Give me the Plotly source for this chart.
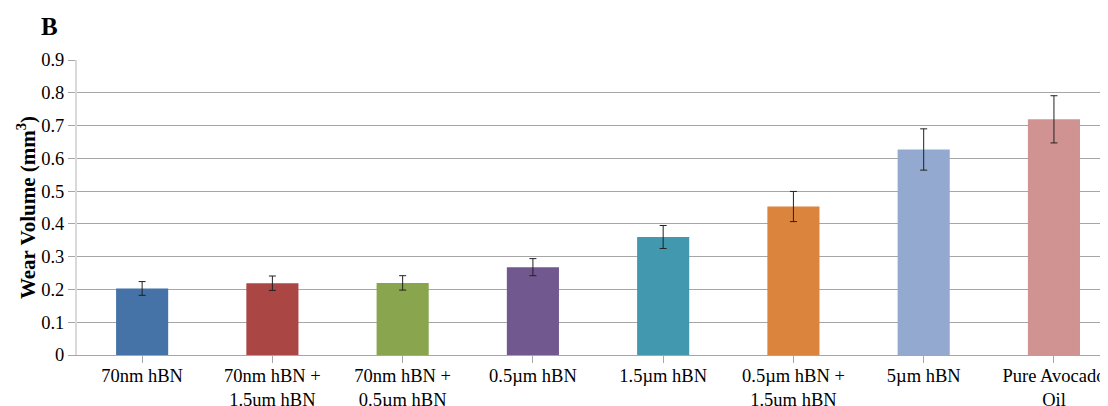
import plotly.graph_objects as go

categories = ["70nm hBN", "70nm hBN +<br>1.5um hBN", "70nm hBN +<br>0.5µm hBN", "0.5µm hBN",
              "1.5µm hBN", "0.5µm hBN +<br>1.5um hBN", "5µm hBN", "Pure Avocado<br>Oil"]
values = [0.203, 0.219, 0.220, 0.268, 0.360, 0.453, 0.627, 0.719]
errors = [0.021, 0.022, 0.022, 0.026, 0.035, 0.046, 0.063, 0.072]
colors = ["#4572A7", "#AA4643", "#89A54E", "#71588F", "#4198AF", "#DB843D", "#93A9CF", "#D19392"]
y_ticks = [0, 0.1, 0.2, 0.3, 0.4, 0.5, 0.6, 0.7, 0.8, 0.9]
y_ticklabels = ["0", "0.1", "0.2", "0.3", "0.4", "0.5", "0.6", "0.7", "0.8", "0.9"]

fig = go.Figure()
fig.add_trace(go.Bar(
    x=list(range(len(categories))),
    y=values,
    width=0.4,
    marker=dict(color=colors, line=dict(width=0)),
    error_y=dict(type="data", array=errors, visible=True, color="#222222", thickness=1, width=3.5),
))

font = "Liberation Serif, Times New Roman, serif"
fig.update_layout(
    width=1100, height=398,
    margin=dict(l=69, r=0, t=52, b=51, autoexpand=False),
    plot_bgcolor="white", paper_bgcolor="white",
    showlegend=False,
    font=dict(family=font, size=18.5, color="#000000"),
    xaxis=dict(
        range=[-0.5, 7.415],
        tickmode="array",
        tickvals=list(range(len(categories))),
        ticktext=categories,
        tickson="boundaries",
        ticks="outside", ticklen=7, tickcolor="#A6A6A6",
        ticklabelstandoff=-3,
        showline=True, linecolor="#A6A6A6", linewidth=1,
        showgrid=False, zeroline=False, automargin=False,
        tickfont=dict(family=font, size=18.5),
    ),
    yaxis=dict(
        range=[0, 0.9],
        tickmode="array", tickvals=y_ticks, ticktext=y_ticklabels,
        ticks="outside", ticklen=7, tickcolor="#A6A6A6",
        showgrid=True, gridcolor="#A6A6A6", gridwidth=1,
        showline=True, linecolor="#D9D9D9", linewidth=2,
        zeroline=False, automargin=False,
        tickfont=dict(family=font, size=18.5),
        title=dict(text="<b>Wear Volume (mm<sup>3</sup>)</b>", font=dict(family=font, size=21), standoff=0),
    ),
    annotations=[dict(
        text="<b>B</b>", x=-0.027, y=1.112, xref="paper", yref="paper",
        xanchor="center", yanchor="middle",
        showarrow=False, font=dict(family=font, size=25),
    )],
)

fig.write_html("out.html")
